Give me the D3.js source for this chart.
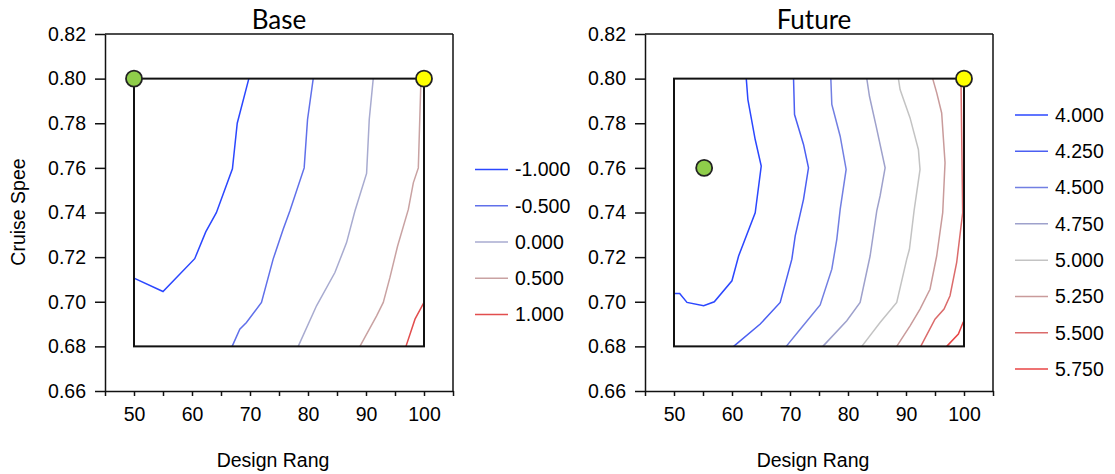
<!DOCTYPE html>
<html>
<head>
<meta charset="utf-8">
<script src="https://cdn.jsdelivr.net/npm/d3@7"></script>
<style>
  html, body { margin: 0; padding: 0; background: #fff; }
  svg { display: block; }
  text { font-family: "Liberation Sans", Arial, sans-serif; fill: #000; }
  .title { font-family: Lato, "Open Sans", sans-serif; }
</style>
</head>
<body>
<svg id="chart" width="1115" height="474"></svg>
<script>
// ---------------- data ----------------
const xDomain = [45, 105];
const yDomain = [0.66, 0.82];
const xTicks = [45, 50, 55, 60, 65, 70, 75, 80, 85, 90, 95, 100, 105];
const xTickLabels = [50, 60, 70, 80, 90, 100];
const yTicks = [0.66, 0.68, 0.70, 0.72, 0.74, 0.76, 0.78, 0.80, 0.82];
const xTitle = "Design Rang";
const yTitle = "Cruise Spee";

// design region (range x speed)
const regionX = [50, 100];
const regionY = [0.68, 0.80];

// Base panel
const baseTitle = "Base";
const baseLevels = ["-1.000", "-0.500", "0.000", "0.500", "1.000"];
const base_m1000 = [[69.8,0.800],[67.8,0.780],[66.97,0.7596],[64.2,0.7399],[62.37,0.7313],[60.47,0.7193],[55.0,0.7046],[50.0,0.7106]];
const base_m0500 = [[80.9,0.800],[79.92,0.7817],[79.34,0.760],[76.87,0.7407],[75.72,0.7325],[73.99,0.7191],[71.98,0.6997],[69.39,0.6907],[68.24,0.6877],[66.92,0.680]];
const base_p0000 = [[91.25,0.800],[90.56,0.7817],[90.1,0.7575],[88.09,0.7407],[86.65,0.7265],[84.64,0.7131],[81.47,0.6982],[78.31,0.680]];
const base_p0500 = [[99.48,0.800],[99.02,0.760],[98.16,0.7533],[97.3,0.7414],[95.45,0.725],[94.13,0.7109],[92.98,0.6997],[91.83,0.6937],[88.95,0.680]];
const base_p1000 = [[100.0,0.6997],[98.45,0.6922],[96.89,0.680]];
const baseContours = [base_m1000, base_m0500, base_p0000, base_p0500, base_p1000];
const baseMarkersX = [50, 100];
const baseMarkersY = [0.80, 0.80];

// Future panel
const futureTitle = "Future";
const futureLevels = ["4.000", "4.250", "4.500", "4.750", "5.000", "5.250", "5.500", "5.750"];
const fut_4000 = [[62.46,0.800],[62.74,0.7906],[64.0,0.7727],[65.04,0.7608],[64.0,0.7399],[61.14,0.7205],[59.99,0.7094],[56.95,0.700],[55.11,0.6982],[52.24,0.6997],[50.98,0.7037],[50.0,0.7037]];
const fut_4250 = [[70.61,0.800],[70.78,0.7839],[72.33,0.7705],[73.19,0.760],[72.33,0.7459],[70.9,0.7295],[70.32,0.7191],[68.31,0.6997],[64.87,0.690],[60.28,0.680]];
const fut_4500 = [[77.04,0.800],[77.21,0.7884],[78.65,0.7742],[79.68,0.7593],[78.65,0.7414],[78.07,0.728],[77.21,0.7146],[75.2,0.6986],[71.76,0.6877],[69.35,0.680]];
const fut_4750 = [[83.24,0.800],[83.7,0.7921],[84.85,0.7787],[86.4,0.760],[85.53,0.7474],[84.96,0.7407],[83.81,0.7205],[82.09,0.6997],[79.79,0.6915],[75.66,0.680]];
const fut_5000 = [[88.69,0.800],[88.98,0.7951],[90.7,0.7824],[92.14,0.7682],[92.42,0.7593],[91.39,0.7407],[90.59,0.7235],[90.13,0.7191],[88.4,0.6997],[85.53,0.6907],[82.38,0.680]];
const fut_5250 = [[94.6,0.800],[95.3,0.7936],[96.15,0.7846],[96.73,0.7623],[96.33,0.7399],[95.29,0.7205],[94.14,0.7056],[92.42,0.6967],[90.7,0.6892],[88.4,0.680]];
const fut_5500 = [[99.48,0.7996],[99.77,0.7399],[98.74,0.7176],[97.59,0.7027],[96.56,0.6967],[95.0,0.6922],[92.54,0.680]];
const fut_5750 = [[99.89,0.691],[99.03,0.6855],[97.02,0.680]];
const futureContours = [fut_4000, fut_4250, fut_4500, fut_4750, fut_5000, fut_5250, fut_5500, fut_5750];
const futureMarkersX = [55.2, 100];
const futureMarkersY = [0.76, 0.80];

// ---------------- styles ----------------
const baseColors = ["#2b47ff", "#6070ea", "#a8abd0", "#c9a2a2", "#e24e4e"];
const futureColors = ["#2b47ff", "#4b5ff2", "#727fe2", "#9ea1cc", "#c3c3c3", "#c99b9b", "#db6b6b", "#e84545"];
const markerColors = ["#8fcd4a", "#ffff00"];
const fontSize = 19.5;

const svg = d3.select("#chart");

function drawPanel(opts) {
  const x0 = opts.x0, x1 = opts.x0 + 348;
  const yTop = 34, yBot = 391;
  const x = d3.scaleLinear().domain(xDomain).range([x0, x1]);
  const y = d3.scaleLinear().domain(yDomain).range([yBot, yTop]);
  const g = svg.append("g");

  // frame top & right
  g.append("line").attr("x1", x0).attr("x2", x1).attr("y1", yTop).attr("y2", yTop)
    .attr("stroke", "#111").attr("stroke-width", 1.5);
  g.append("line").attr("x1", x1).attr("x2", x1).attr("y1", yTop).attr("y2", yBot)
    .attr("stroke", "#111").attr("stroke-width", 1.5);

  // axes
  const ax = g.append("g").attr("transform", `translate(0,${yBot})`)
    .call(d3.axisBottom(x).tickValues(xTicks).tickSize(5).tickSizeOuter(0).tickPadding(11)
      .tickFormat(d => xTickLabels.includes(d) ? d : ""));
  const ay = g.append("g").attr("transform", `translate(${x0},0)`)
    .call(d3.axisLeft(y).tickValues(yTicks).tickSize(10).tickSizeOuter(0).tickPadding(9)
      .tickFormat(d3.format(".2f")));
  [ax, ay].forEach(a => {
    a.selectAll("path.domain").attr("stroke", "#111").attr("stroke-width", 1.5);
    a.selectAll(".tick line").attr("stroke", "#111").attr("stroke-width", 1.5);
    a.selectAll("text").attr("font-size", fontSize).attr("font-family", "Liberation Sans, Arial, sans-serif").attr("fill", "#000");
  });

  // contours
  const line = d3.line().x(d => x(d[0])).y(d => y(d[1]));
  opts.contours.forEach((c, i) => {
    g.append("path").attr("d", line(c)).attr("fill", "none")
      .attr("stroke", opts.colors[i]).attr("stroke-width", 1.5);
  });

  // design region rect
  g.append("rect")
    .attr("x", x(regionX[0])).attr("y", y(regionY[1]))
    .attr("width", x(regionX[1]) - x(regionX[0]))
    .attr("height", y(regionY[0]) - y(regionY[1]))
    .attr("fill", "none").attr("stroke", "#111").attr("stroke-width", 2);

  // markers
  opts.mx.forEach((mx, i) => {
    g.append("circle").attr("cx", x(mx)).attr("cy", y(opts.my[i])).attr("r", 8)
      .attr("fill", markerColors[i]).attr("stroke", "#222").attr("stroke-width", 1.8);
  });

  // title
  g.append("text").attr("class", "title")
    .attr("x", (x0 + x1) / 2 + opts.titleDx).attr("y", 29)
    .attr("text-anchor", "middle").attr("font-size", 26).text(opts.title);

  // x title
  g.append("text").attr("x", (x0 + x1) / 2 - 6).attr("y", 467)
    .attr("text-anchor", "middle").attr("font-size", fontSize).text(xTitle);

  // legend
  const n = opts.levels.length;
  const cy = 242, step = 36.3;
  opts.levels.forEach((lab, i) => {
    const ly = cy + (i - (n - 1) / 2) * step;
    g.append("line").attr("x1", x0 + 370).attr("x2", x0 + 403).attr("y1", ly).attr("y2", ly)
      .attr("stroke", opts.colors[i]).attr("stroke-width", 1.5);
    g.append("text").attr("x", x0 + 410).attr("y", ly).attr("dy", "0.35em")
      .attr("font-size", fontSize).text(lab);
  });
}

drawPanel({ x0: 105, title: baseTitle, titleDx: 0, contours: baseContours, colors: baseColors,
  levels: baseLevels, mx: baseMarkersX, my: baseMarkersY });
drawPanel({ x0: 645, title: futureTitle, titleDx: -5, contours: futureContours, colors: futureColors,
  levels: futureLevels, mx: futureMarkersX, my: futureMarkersY });

// y title (left only)
svg.append("text").attr("transform", "translate(25,212) rotate(-90)")
  .attr("text-anchor", "middle").attr("font-size", fontSize).text(yTitle);
</script>
</body>
</html>
